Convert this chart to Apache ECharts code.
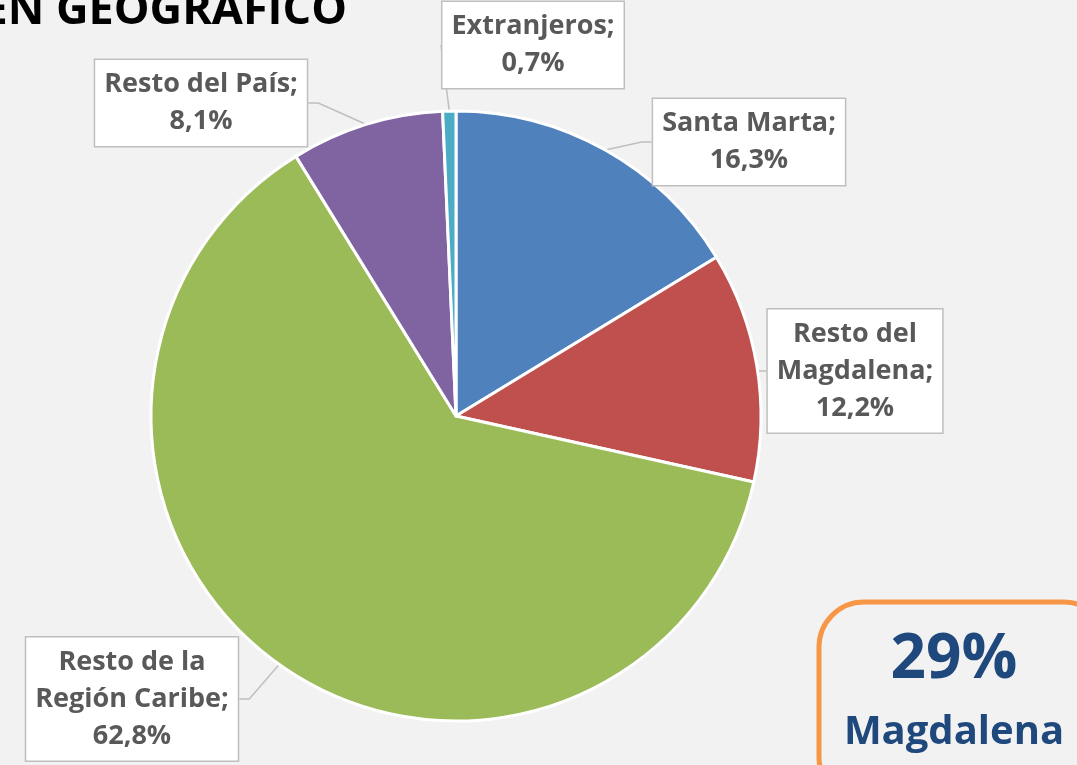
<!DOCTYPE html>
<html>
<head>
<meta charset="utf-8">
<script src="https://cdn.jsdelivr.net/npm/echarts@6/dist/echarts.min.js"></script>
<style>
  html, body { margin: 0; padding: 0; background: #f2f2f2; }
  #chart { width: 1077px; height: 765px; }
</style>
</head>
<body>
<div id="chart"></div>
<script>
// datos del gráfico
const categories = ['Santa Marta', 'Resto del Magdalena', 'Resto de la Región Caribe', 'Resto del País', 'Extranjeros']
const labelTexts = ['Santa Marta;', 'Resto del\nMagdalena;', 'Resto de la\nRegión Caribe;', 'Resto del País;', 'Extranjeros;']
const values = [16.3, 12.2, 62.8, 8.1, 0.7]
const colors = ['#4f81bd', '#c0504d', '#9bbb59', '#8064a2', '#4bacc6']

// centro de cada etiqueta (x, y)
const labelPos = [
  [749, 142],
  [855, 371],
  [132, 699],
  [201, 103],
  [533, 45],
]

const chart = echarts.init(document.getElementById('chart'))

const fmt = (v) => v.toFixed(1).replace('.', ',') + '%'
const FONT = '"Open Sans", Lato, sans-serif'

chart.setOption({
  backgroundColor: '#f2f2f2',
  animation: false,
  graphic: [
    {
      type: 'text',
      x: 347,
      y: 11,
      style: {
        text: 'ORIGEN GEOGRÁFICO',
        font: 'bold 45px ' + FONT,
        fill: '#000',
        align: 'right',
        verticalAlign: 'middle',
      },
    },
    {
      type: 'rect',
      shape: { x: 819, y: 602, width: 290, height: 200, r: 45 },
      style: { fill: 'none', stroke: '#f79646', lineWidth: 5 },
    },
    {
      type: 'text',
      x: 954,
      y: 660,
      style: {
        text: '29%',
        font: 'bold 62px ' + FONT,
        fill: '#1f497d',
        align: 'center',
        verticalAlign: 'middle',
      },
    },
    {
      type: 'text',
      x: 954,
      y: 733,
      style: {
        text: 'Magdalena',
        font: 'bold 40px ' + FONT,
        fill: '#1f497d',
        align: 'center',
        verticalAlign: 'middle',
      },
    },
  ],
  series: [
    {
      type: 'pie',
      center: [456, 416],
      radius: 305,
      startAngle: 90,
      clockwise: true,
      avoidLabelOverlap: false,
      itemStyle: { borderColor: '#fff', borderWidth: 3 },
      label: {
        show: true,
        position: 'outside',
        formatter: (p) => labelTexts[p.dataIndex] + '\n' + fmt(p.value),
        color: '#595959',
        fontFamily: FONT,
        fontWeight: 'bold',
        fontSize: 27,
        lineHeight: 37,
        align: 'center',
        backgroundColor: '#fff',
        borderColor: '#bfbfbf',
        borderWidth: 1.5,
        padding: [6, 9],
      },
      labelLine: {
        show: true,
        length: 10,
        length2: 10,
        lineStyle: { color: '#bfbfbf', width: 1.5 },
      },
      labelLayout: (params) => {
        const pos = labelPos[params.dataIndex]
        return { x: pos[0], y: pos[1], align: 'center', verticalAlign: 'middle' }
      },
      data: categories.map((name, i) => ({
        name,
        value: values[i],
        itemStyle: { color: colors[i] },
      })),
    },
  ],
})
</script>
</body>
</html>
